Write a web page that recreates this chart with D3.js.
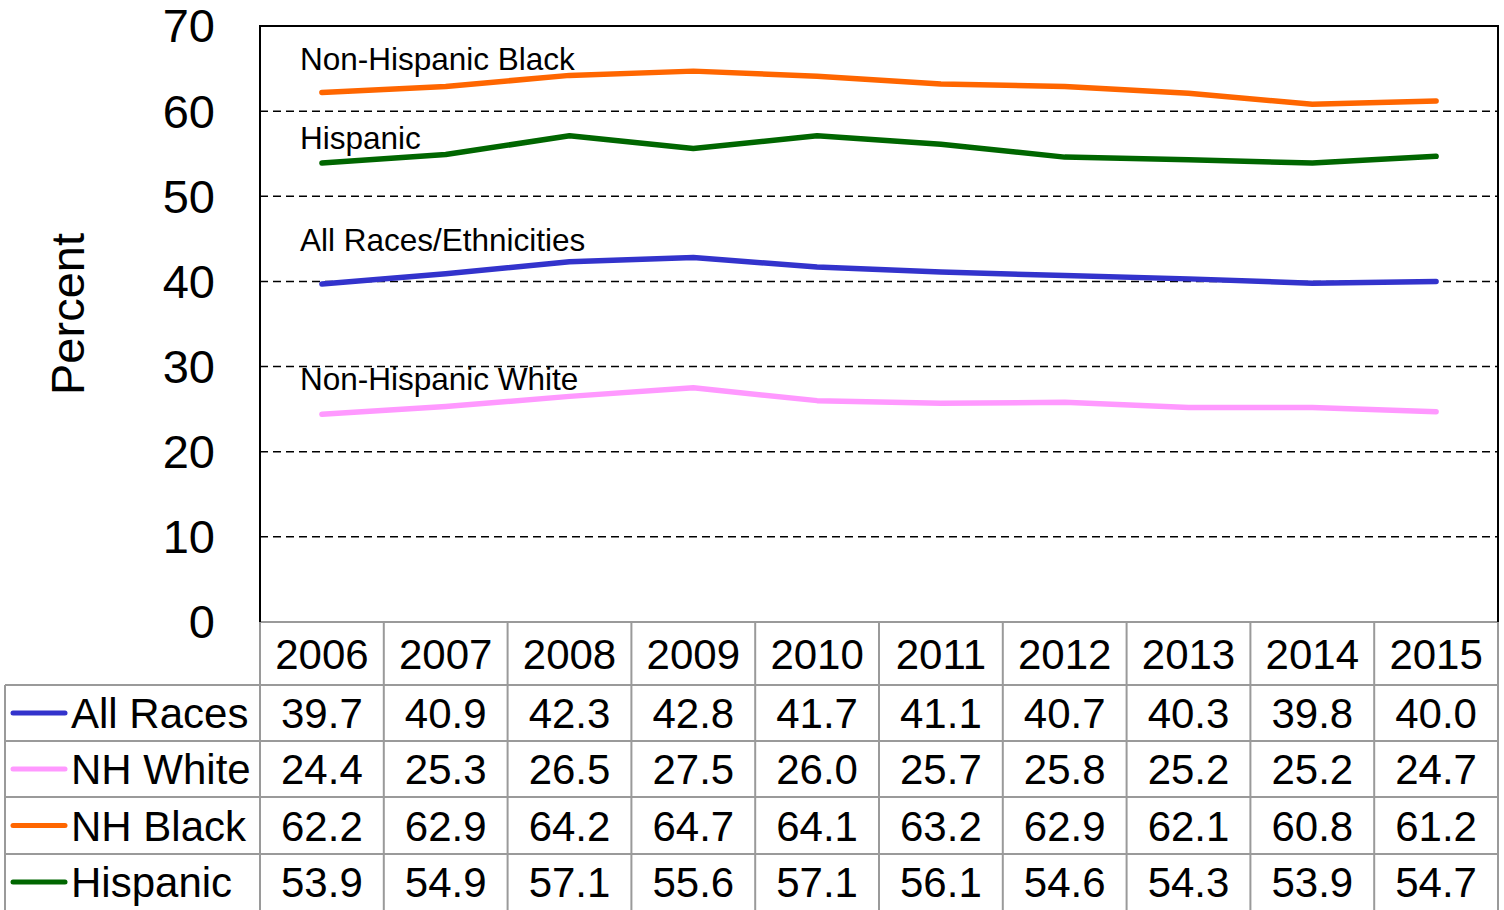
<!DOCTYPE html>
<html><head><meta charset="utf-8">
<script src="https://cdn.jsdelivr.net/npm/d3@7"></script>
<style>body{margin:0;background:#fff}svg{display:block}text{font-family:"Liberation Sans",Arial,sans-serif;fill:#000}</style>
</head><body>
<svg id="c" width="1504" height="910"></svg>
<script>
const years = ["2006","2007","2008","2009","2010","2011","2012","2013","2014","2015"];
const allRaces = [39.7,40.9,42.3,42.8,41.7,41.1,40.7,40.3,39.8,40.0];
const nhWhite  = [24.4,25.3,26.5,27.5,26.0,25.7,25.8,25.2,25.2,24.7];
const nhBlack  = [62.2,62.9,64.2,64.7,64.1,63.2,62.9,62.1,60.8,61.2];
const hispanic = [53.9,54.9,57.1,55.6,57.1,56.1,54.6,54.3,53.9,54.7];
const seriesNames = ["All Races","NH White","NH Black","Hispanic"];
const chartLabels = ["All Races/Ethnicities","Non-Hispanic White","Non-Hispanic Black","Hispanic"];
const yTicks = [0,10,20,30,40,50,60,70];

const series = [
  {name:seriesNames[0], label:chartLabels[0], values:allRaces, color:"#3333cc", ly:251},
  {name:seriesNames[1], label:chartLabels[1], values:nhWhite,  color:"#ff99ff", ly:390},
  {name:seriesNames[2], label:chartLabels[2], values:nhBlack,  color:"#ff6600", ly:70},
  {name:seriesNames[3], label:chartLabels[3], values:hispanic, color:"#006600", ly:149}
];

const svg = d3.select("#c");
const L=260, R=1498, T=26, B=622;
const x = d3.scaleBand().domain(years).range([L,R]);
const bw = x.bandwidth();
const xc = d => x(d)+bw/2;
const y = d3.scaleLinear().domain([0,70]).range([B,T]);

// grid
svg.append("g").selectAll("line").data(yTicks.filter(t=>t>0&&t<70)).join("line")
  .attr("x1",L).attr("x2",R).attr("y1",d=>y(d)).attr("y2",d=>y(d))
  .attr("stroke","#000").attr("stroke-width",1.5).attr("stroke-dasharray","8,5");

// y axis labels
const yAxis = d3.axisLeft(y).tickValues(yTicks).tickSize(0).tickPadding(0);
const ga = svg.append("g").attr("transform",`translate(215,0)`).call(yAxis);
ga.select(".domain").remove();
ga.selectAll("text").attr("font-size",47).attr("font-family","Liberation Sans, Arial, sans-serif").attr("fill","#000").attr("dy","0.34em");

// Y title
svg.append("text").attr("transform","translate(84,314) rotate(-90)")
  .attr("text-anchor","middle").attr("font-size",47).text("Percent");

// lines
const line = d3.line().x((d,i)=>xc(years[i])).y(d=>y(d));
series.forEach(s=>{
  svg.append("path").datum(s.values).attr("d",line).attr("fill","none")
    .attr("stroke",s.color).attr("stroke-width",5.5).attr("stroke-linecap","round").attr("stroke-linejoin","round");
  svg.append("text").attr("x",300).attr("y",s.ly).attr("font-size",31.5).text(s.label);
});

// table
const rowTops = [622,685,741,797,854,910];
const g = svg.append("g");
const grey="#9a9a9a";
g.append("line").attr("x1",L).attr("x2",R).attr("y1",B).attr("y2",B).attr("stroke",grey).attr("stroke-width",2);
rowTops.slice(1,5).forEach(yy=>{
  g.append("line").attr("x1",5).attr("x2",R).attr("y1",yy).attr("y2",yy).attr("stroke",grey).attr("stroke-width",2);
});
g.append("line").attr("x1",5).attr("x2",5).attr("y1",685).attr("y2",910).attr("stroke",grey).attr("stroke-width",2);
years.forEach(yr=>{
  g.append("line").attr("x1",x(yr)).attr("x2",x(yr)).attr("y1",B).attr("y2",910).attr("stroke",grey).attr("stroke-width",2);
});
g.append("line").attr("x1",R).attr("x2",R).attr("y1",B).attr("y2",910).attr("stroke",grey).attr("stroke-width",2);

// plot border
svg.append("path").attr("d",`M${L},${B}V${T}H${R}V${B}`).attr("fill","none").attr("stroke","#000").attr("stroke-width",2);

// header
g.selectAll(".yr").data(years).join("text").attr("x",d=>xc(d)).attr("y",(622+685)/2).attr("dy","0.36em")
  .attr("text-anchor","middle").attr("font-size",42).text(d=>d);

series.forEach((s,r)=>{
  const top=rowTops[r+1], bot=rowTops[r+2];
  const cy=(top+bot)/2;
  g.append("line").attr("x1",13).attr("x2",65).attr("y1",cy).attr("y2",cy).attr("stroke",s.color).attr("stroke-width",5).attr("stroke-linecap","round");
  g.append("text").attr("x",71).attr("y",cy).attr("dy","0.36em").attr("font-size",42).text(s.name);
  g.selectAll(null).data(s.values).join("text").attr("x",(d,i)=>xc(years[i])).attr("y",cy).attr("dy","0.36em")
    .attr("text-anchor","middle").attr("font-size",42).text(d=>d.toFixed(1));
});
</script>
</body></html>
